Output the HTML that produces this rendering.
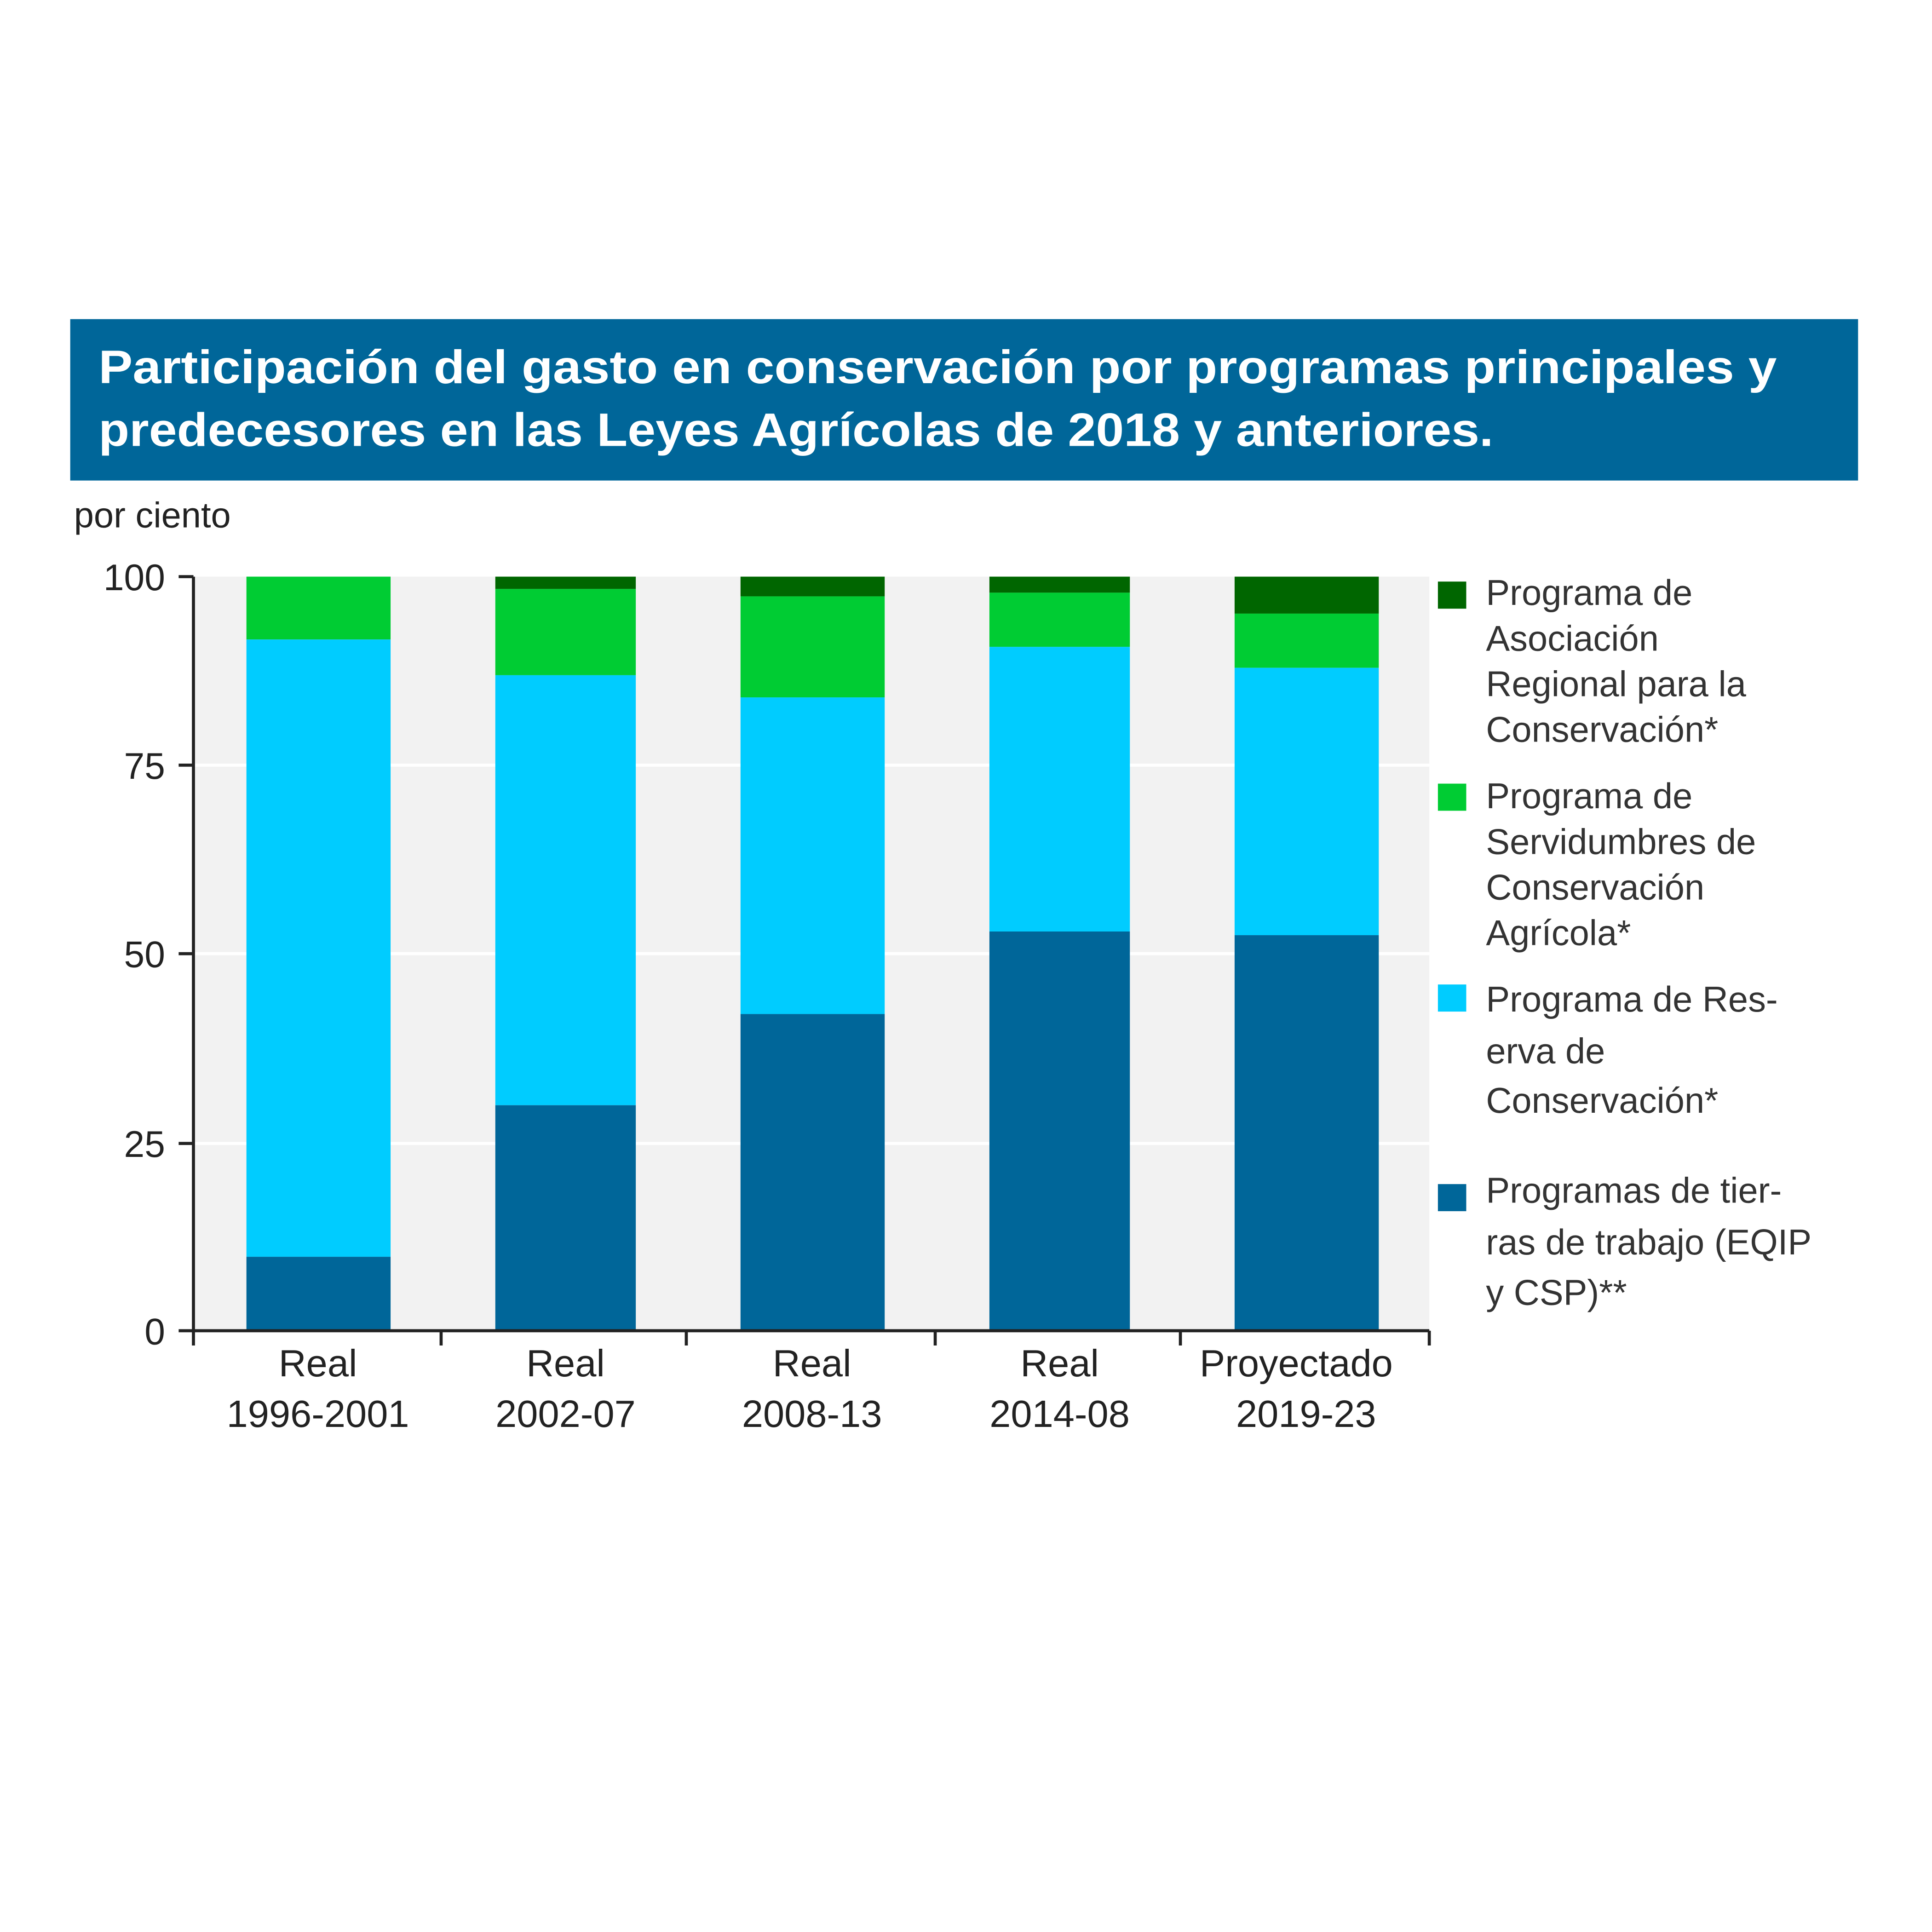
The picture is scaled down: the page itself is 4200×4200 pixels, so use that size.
<!DOCTYPE html>
<html><head><meta charset="utf-8"><style>
html,body{margin:0;padding:0;background:#fff;}
svg{display:block;}
text{font-family:"Liberation Sans",sans-serif;}
</style></head><body>
<svg width="4200" height="4200" viewBox="0 0 1568 1568" xmlns="http://www.w3.org/2000/svg">
<rect x="0" y="0" width="1568" height="1568" fill="#fff"/>
<rect x="57" y="259" width="1451" height="131" fill="#006699"/>
<text x="80" y="311" font-size="38" font-weight="bold" fill="#fff" textLength="1362" lengthAdjust="spacingAndGlyphs">Participación del gasto en conservación por programas principales y</text>
<text x="80" y="362" font-size="38" font-weight="bold" fill="#fff" textLength="1132" lengthAdjust="spacingAndGlyphs">predecesores en las Leyes Agrícolas de 2018 y anteriores.</text>
<text x="60" y="428" font-size="29" fill="#222">por ciento</text>
<rect x="157" y="468" width="1003" height="612" fill="#f2f2f2"/>
<g stroke="#fff" stroke-width="2.5">
<line x1="157" x2="1160" y1="621" y2="621"/><line x1="157" x2="1160" y1="774" y2="774"/><line x1="157" x2="1160" y1="928" y2="928"/>
</g>
<g>
<rect x="200" y="468" width="117" height="51" fill="#00cc33"/>
<rect x="200" y="519" width="117" height="501" fill="#00ccff"/>
<rect x="200" y="1020" width="117" height="60" fill="#006699"/>

<rect x="402" y="468" width="114" height="10" fill="#006600"/>
<rect x="402" y="478" width="114" height="70" fill="#00cc33"/>
<rect x="402" y="548" width="114" height="349" fill="#00ccff"/>
<rect x="402" y="897" width="114" height="183" fill="#006699"/>

<rect x="601" y="468" width="117" height="16" fill="#006600"/>
<rect x="601" y="484" width="117" height="82" fill="#00cc33"/>
<rect x="601" y="566" width="117" height="257" fill="#00ccff"/>
<rect x="601" y="823" width="117" height="257" fill="#006699"/>

<rect x="803" y="468" width="114" height="13" fill="#006600"/>
<rect x="803" y="481" width="114" height="44" fill="#00cc33"/>
<rect x="803" y="525" width="114" height="231" fill="#00ccff"/>
<rect x="803" y="756" width="114" height="324" fill="#006699"/>

<rect x="1002" y="468" width="117" height="30" fill="#006600"/>
<rect x="1002" y="498" width="117" height="44" fill="#00cc33"/>
<rect x="1002" y="542" width="117" height="217" fill="#00ccff"/>
<rect x="1002" y="759" width="117" height="321" fill="#006699"/>
</g>
<g stroke="#222" stroke-width="2.5">
<line x1="157" y1="468" x2="157" y2="1092"/>
<line x1="145" y1="1080" x2="1160" y2="1080"/>
<line x1="145" y1="468" x2="157" y2="468"/><line x1="145" y1="621" x2="157" y2="621"/><line x1="145" y1="774" x2="157" y2="774"/><line x1="145" y1="928" x2="157" y2="928"/>
<line x1="358" y1="1080" x2="358" y2="1092"/><line x1="557" y1="1080" x2="557" y2="1092"/><line x1="759" y1="1080" x2="759" y2="1092"/><line x1="958" y1="1080" x2="958" y2="1092"/><line x1="1160" y1="1080" x2="1160" y2="1092"/>
</g>
<g font-size="30" fill="#222" text-anchor="end">
<text x="134" y="479">100</text><text x="134" y="632">75</text><text x="134" y="785">50</text><text x="134" y="939">25</text><text x="134" y="1091">0</text>
</g>
<g font-size="31" fill="#222" text-anchor="middle">
<text x="258" y="1117">Real</text><text x="258" y="1158">1996-2001</text>
<text x="459" y="1117">Real</text><text x="459" y="1158">2002-07</text>
<text x="659" y="1117">Real</text><text x="659" y="1158">2008-13</text>
<text x="860" y="1117">Real</text><text x="860" y="1158">2014-08</text>
<text x="1052" y="1117">Proyectado</text><text x="1060" y="1158">2019-23</text>
</g>
<rect x="1167" y="472" width="23" height="22" fill="#006600"/>
<rect x="1167" y="636" width="23" height="22" fill="#00cc33"/>
<rect x="1167" y="799" width="23" height="22" fill="#00ccff"/>
<rect x="1167" y="961" width="23" height="22" fill="#006699"/>
<g font-size="29" fill="#333">
<text x="1206" y="491">Programa de</text><text x="1206" y="528">Asociación</text><text x="1206" y="565">Regional para la</text><text x="1206" y="602">Conservación*</text>
<text x="1206" y="656">Programa de</text><text x="1206" y="693">Servidumbres de</text><text x="1206" y="730">Conservación</text><text x="1206" y="767">Agrícola*</text>
<text x="1206" y="821">Programa de Res-</text><text x="1206" y="863">erva de</text><text x="1206" y="903">Conservación*</text>
<text x="1206" y="976">Programas de tier-</text><text x="1206" y="1018">ras de trabajo (EQIP</text><text x="1206" y="1059">y CSP)**</text>
</g>
</svg>
</body></html>
